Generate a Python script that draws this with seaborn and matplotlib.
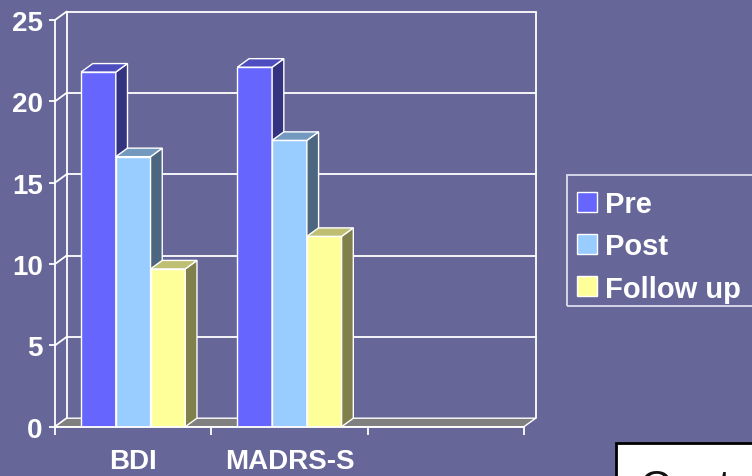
import numpy as np
import pandas as pd
import matplotlib
matplotlib.use("Agg")
import matplotlib.pyplot as plt
import seaborn as sns
from matplotlib.patches import Polygon, Rectangle, Patch
from matplotlib.transforms import ScaledTranslation, IdentityTransform

# ---- data -------------------------------------------------------------
scales = ["BDI", "MADRS-S"]
phases = ["Pre", "Post", "Follow up"]
pre = [21.8, 22.1]
post = [16.6, 17.6]
follow_up = [9.7, 11.7]
y_ticks = [0, 5, 10, 15, 20, 25]

# ---- styling ----------------------------------------------------------
front_colors = ["#6666FF", "#99CCFF", "#FFFF99"]
side_colors = ["#333380", "#4D6680", "#80804D"]
top_colors = ["#4D4DBF", "#7399BF", "#BFBF73"]
BG = "#666699"
FLOOR = "#808080"
DX, DY = 11.7, 8.5          # depth offset of the 3D look, in pixels

sns.set_theme(style="white")
plt.rcParams["font.family"] = ["Liberation Sans", "DejaVu Sans"]

df = pd.DataFrame({
    "scale": scales * len(phases),
    "phase": np.repeat(phases, len(scales)),
    "value": pre + post + follow_up,
})

W, H = 752, 477
fig = plt.figure(figsize=(W / 100, H / 100), dpi=100, facecolor=BG)
ax = fig.add_axes([55 / W, (H - 427.7) / H, 469 / W, 406.7 / H])
ax.set_facecolor("none")

sns.barplot(data=df, x="scale", y="value", hue="phase", order=scales,
            hue_order=phases, palette=front_colors, saturation=1,
            width=2 / 3, gap=0, edgecolor="white", linewidth=1.0,
            errorbar=None, legend=False, ax=ax)

# three category slots, the last one left empty
ax.set_xlim(-0.5, 2.5)
ax.set_ylim(0, 25)
ax.set_autoscale_on(False)
ax.set_xlabel("")
ax.set_ylabel("")

back = ax.transData + ScaledTranslation(DX / 100, DY / 100, fig.dpi_scale_trans)


def disp(x, y, is_back=False):
    px, py = ax.transData.transform((x, y))
    if is_back:
        px += DX
        py += DY
    return (px, py)


def add_poly(pts, **kw):
    p = Polygon(pts, closed=True, transform=IdentityTransform(), **kw)
    p.set_clip_on(False)
    ax.add_patch(p)
    return p


# back wall: gridlines, side edges and the slanted links to the value axis
x_lo, x_hi = ax.get_xlim()
for v in y_ticks:
    if v > 0:
        ax.plot([x_lo, x_hi], [v, v], color="white", lw=1.3,
                transform=back, clip_on=False, zorder=1)
    a, b = disp(x_lo, v), disp(x_lo, v, True)
    ax.plot([a[0], b[0]], [a[1], b[1]], color="white", lw=1.3,
            transform=IdentityTransform(), clip_on=False, zorder=1)
for xv in (x_lo, x_hi):
    ax.plot([xv, xv], [0, 25], color="white", lw=1.3,
            transform=back, clip_on=False, zorder=1)

# floor
add_poly([disp(x_lo, 0), disp(x_hi, 0), disp(x_hi, 0, True), disp(x_lo, 0, True)],
         facecolor=FLOOR, edgecolor="white", lw=1.0, zorder=1.5)

# side and top faces for every bar, stacked left to right
bars = []
for j, cont in enumerate(ax.containers):
    for rect in cont.patches:
        bars.append((rect.get_x(), j, rect))
bars.sort(key=lambda t: t[0])
for i, (x0, j, rect) in enumerate(bars):
    z = 3 + i * 0.1
    rect.set_zorder(z)
    x1 = x0 + rect.get_width()
    h = rect.get_height()
    add_poly([disp(x1, 0), disp(x1, h), disp(x1, h, True), disp(x1, 0, True)],
             facecolor=side_colors[j], edgecolor="white", lw=1.0, zorder=z)
    add_poly([disp(x0, h), disp(x1, h), disp(x1, h, True), disp(x0, h, True)],
             facecolor=top_colors[j], edgecolor="white", lw=1.0, zorder=z)

# axes lines and ticks
for s in ("top", "right"):
    ax.spines[s].set_visible(False)
for s in ("left", "bottom"):
    ax.spines[s].set_color("white")
    ax.spines[s].set_linewidth(1.3)
    ax.spines[s].set_zorder(10)

ax.set_yticks(y_ticks)
ax.set_yticklabels([str(v) for v in y_ticks], fontsize=20, fontweight="bold",
                   color="white")
ax.tick_params(axis="y", direction="out", length=4.3, width=1.3,
               color="white", pad=4.5, left=True)

ax.set_xticks(range(len(scales)))
ax.set_xticklabels(scales, fontsize=20, fontweight="bold", color="white")
ax.set_xticks([-0.5, 0.5, 1.5, 2.5], minor=True)
ax.tick_params(axis="x", which="major", length=0, pad=15)
ax.tick_params(axis="x", which="minor", direction="out", length=6,
               width=1.3, color="white", bottom=True)

# legend
handles = [Patch(facecolor=c, edgecolor="white", lw=1.0) for c in front_colors]
fig.legend(handles, phases, loc="upper left",
           bbox_to_anchor=(577 / W, (H - 191) / H), frameon=False,
           prop={"family": ["Liberation Sans"], "weight": "bold", "size": 21},
           labelcolor="white", handlelength=0.67, handleheight=0.67,
           handletextpad=0.3, labelspacing=0.49, borderpad=0,
           borderaxespad=0)
fig.add_artist(Rectangle((567 / W, (H - 307) / H), (790 - 567) / W, 131 / H,
                         transform=fig.transFigure, fill=False,
                         edgecolor="#DDDDEE", lw=1.3))

# caption box in the lower right corner
fig.add_artist(Rectangle((616 / W, -0.2), 0.5, 0.2 + (H - 444) / H,
                         transform=fig.transFigure, facecolor="white",
                         edgecolor="black", lw=2))
fig.text(640 / W, (H - 500) / H, "Control group", fontsize=31,
         color="#111111", ha="left", va="baseline",
         family=["Liberation Sans", "DejaVu Sans"])

fig.savefig("out.png", dpi=100, facecolor=BG)
